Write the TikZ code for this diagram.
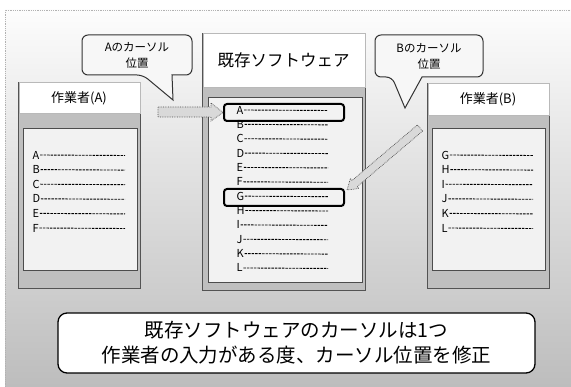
\documentclass[tikz,border=0pt]{standalone}
\usepackage{fontspec}
\setmainfont{Noto Sans CJK JP}
\begin{document}
\begin{tikzpicture}[x=1pt,y=-1pt,
  panel/.style={draw=gray!65!black, fill=gray!50, line width=0.8pt, inner sep=0pt, anchor=north west},
  titlebar/.style={fill=white, draw=gray!55, line width=0.5pt, inner sep=0pt, anchor=north west},
  listarea/.style={draw=gray!60!black, fill=gray!10, line width=0.7pt, inner sep=0pt, anchor=north west},
  itemtext/.style={font=\fontsize{11}{12}\selectfont, inner sep=0.5pt, anchor=west},
  dashline/.style={dash pattern=on 2.5pt off 1pt, line width=0.9pt},
  hilite/.style={draw=black, line width=2pt, rounded corners=3pt, inner sep=0pt, anchor=north west},
  callout/.style={draw=black!80, fill=gray!6, line width=1pt},
  callouttext/.style={align=center, font=\fontsize{11.5}{16}\selectfont, inner sep=0pt},
  boxtitle/.style={font=\fontsize{13}{15}\selectfont, inner sep=0pt},
  blockarrow/.style={draw=gray!60!black, fill=gray!30, densely dotted, line width=0.7pt, line join=miter},
]
\useasboundingbox (0,0) rectangle (571,387);
% background frame
\shade[top color=gray!2, bottom color=gray!52] (5,10) rectangle (572,388);
\draw[gray!60, densely dotted, line width=0.8pt] (572,10) -- (5,10) -- (5,388);

% callouts
\draw[callout] (143,75) -- (173,100) -- (172,75) [rounded corners=6pt] -- (192,75) -- (192,35) -- (82,35) -- (82,75) -- cycle;
\node[callouttext] (ctA) at (137,55) {Aのカーソル\\位置};
\draw[callout] (392,77) -- (405,108) -- (422,77) [rounded corners=6pt] -- (483,77) -- (483,35) -- (375,35) -- (375,77) -- cycle;
\node[callouttext] (ctB) at (429,56) {Bのカーソル\\位置};

% software box
\node[panel, minimum width=163pt, minimum height=257pt] (soft) at (202,33) {};
\node[titlebar, minimum width=162pt, minimum height=53.5pt] (softtitle) at (202.5,33.5) {};
\node[font=\fontsize{16.5}{18}\selectfont, inner sep=0pt] (softlabel) at (283.5,60) {既存ソフトウェア};
\node[listarea, minimum width=154pt, minimum height=185pt] (softlist) at (208,97) {};
\foreach \l [count=\i from 0] in {A,B,C,D,E,F,G,H,I,J,K,L} {
  \node[itemtext] (s\l) at (236,{110+14.36*\i}) {\l};
  \draw[dashline] (s\l.east) -- (328,{110.5+14.36*\i});
}
\node[hilite, minimum width=120pt, minimum height=17pt] (hiA) at (223,103) {};
\node[hilite, minimum width=120pt, minimum height=17pt] (hiG) at (223,188) {};

% worker A
\node[panel, minimum width=122pt, minimum height=206pt] (wA) at (18,82) {};
\node[titlebar, minimum width=121pt, minimum height=30.5pt] (wAtitle) at (18.5,82.5) {};
\node[boxtitle] (wAlabel) at (79,98) {作業者(A)};
\node[listarea, minimum width=114pt, minimum height=142pt] (wAlist) at (23,128) {};
\foreach \l [count=\i from 0] in {A,B,C,D,E,F} {
  \node[itemtext] (a\l) at (32,{155+14.6*\i}) {\l};
  \draw[dashline] (a\l.east) -- (125,{155.5+14.6*\i});
}

% worker B
\node[panel, minimum width=122pt, minimum height=205pt] (wB) at (427,83) {};
\node[titlebar, minimum width=121pt, minimum height=31.5pt] (wBtitle) at (427.5,83.5) {};
\node[boxtitle] (wBlabel) at (488,99) {作業者(B)};
\node[listarea, minimum width=113pt, minimum height=142pt] (wBlist) at (432,128) {};
\foreach \l [count=\i from 0] in {G,H,I,J,K,L} {
  \node[itemtext] (b\l) at (441,{155+14.6*\i}) {\l};
  \draw[dashline] (b\l.east) -- (533,{155.5+14.6*\i});
}

% block arrows
\draw[blockarrow] (158,107) -- (211,107) -- (211,103) -- (hiA.west) -- (211,121) -- (211,117) -- (158,117) -- cycle;
\coordinate (tipB) at (347,190);
\draw[blockarrow] (422.59,131.05) -- (357.21,186.58) -- (358.83,188.48) -- (tipB) -- (350.41,178.58) -- (352.03,180.48) -- (417.41,124.95) -- cycle;

% summary
\node[draw=black, line width=1.3pt, fill=white, rounded corners=9pt, minimum width=477pt, minimum height=60pt, align=center, font=\fontsize{19.5}{25}\selectfont, inner sep=0pt] (summary) at (296.5,343) {既存ソフトウェアのカーソルは1つ\\作業者の入力がある度、カーソル位置を修正};
\end{tikzpicture}
\end{document}
